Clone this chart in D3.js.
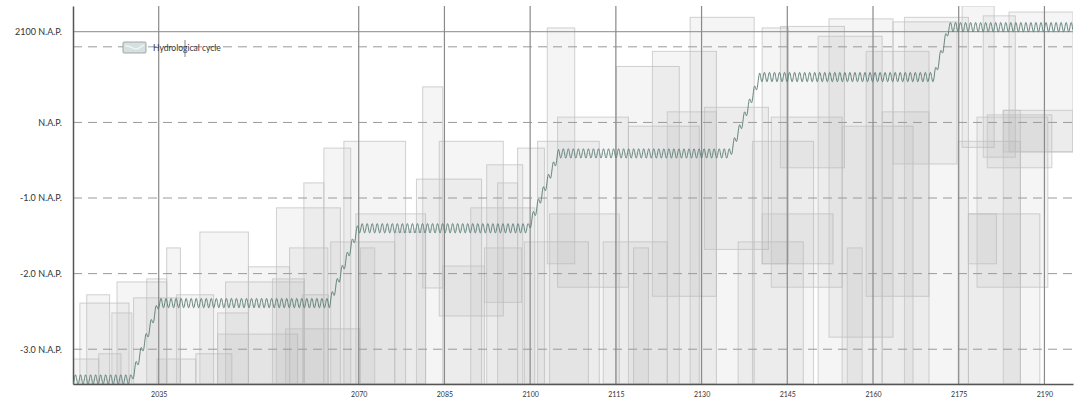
<!DOCTYPE html>
<html>
<head>
<meta charset="utf-8">
<script src="https://cdn.jsdelivr.net/npm/d3@7"></script>
<style>
  body { margin: 0; background: #fff; }
  svg { display: block; }
  text { font-family: Lato, "Open Sans", sans-serif; fill: #333; }
</style>
</head>
<body>
<svg id="chart" width="1081" height="402"></svg>
<script>
// ---- axis ticks -------------------------------------------------------
const yearTicks   = [2035, 2070, 2085, 2100, 2115, 2130, 2145, 2160, 2175, 2190];
const levelTicks  = [-3, -2, -1, 0, 1];
const levelLabels = ["-3.0 N.A.P.", "-2.0 N.A.P.", "-1.0 N.A.P.", "N.A.P.", ""];
const refLevel    = 1.2;
const refLabel    = "2100 N.A.P.";

// ---- water level: stepped base level (years / metres) -----------------
const stepYears  = [2020, 2030.2, 2035.0, 2064.9, 2069.9, 2099.7, 2105.0, 2135.0, 2140.2, 2170.7, 2173.3, 2195];
const stepLevels = [-3.40, -3.40, -2.39, -2.39, -1.40, -1.40, -0.41, -0.41, 0.60, 0.60, 1.26, 1.26];
// yearly hydrological swing around the base level
const cycleYears = 0.88;
const cycleSwing = 0.062;

// ---- blocks: start year, end year, top level, bottom level (null = ground)
const blockStart  = [2020.1,2021.2,2022.4,2024.5,2026.8,2027.7,2030.6,2032.9,2036.4,2034.7,2041.5,2038.1,2042.2,2045.3,2045.3,2046.7,2050.7,2054.9,2057.2,2060.2,2055.6,2057.9,2060.4,2063.9,2067.4,2065.1,2070.3,2069.5,2076.3,2080.1,2081.2,2084.1,2084.7,2089.6,2092.0,2092.4,2094.3,2097.8,2099.0,2101.3,2103.0,2104.8,2103.4,2112.8,2118.1,2115.1,2117.2,2121.4,2124.0,2128.0,2130.5,2136.4,2138.9,2140.6,2140.6,2142.2,2143.8,2150.4,2152.3,2154.6,2155.5,2158.8,2161.6,2163.5,2165.5,2175.6,2174.9,2176.7,2176.7,2178.2,2179.3,2180.0,2183.8,2182.8,2182.8];
const blockEnd    = [2024.5,2029.8,2026.4,2028.4,2030.3,2036.4,2038.8,2036.4,2038.8,2041.5,2047.8,2044.6,2050.7,2050.7,2059.3,2060.4,2057.9,2060.5,2070.2,2064.7,2066.8,2064.6,2063.9,2068.6,2078.2,2076.3,2072.8,2081.7,2081.7,2091.5,2084.7,2095.3,2092.0,2100.8,2098.5,2098.7,2097.8,2102.5,2110.2,2112.1,2107.8,2117.2,2115.6,2124.0,2120.7,2126.1,2129.6,2132.6,2132.6,2139.2,2141.7,2147.8,2149.6,2145.2,2153.0,2154.6,2155.0,2161.6,2163.5,2167.0,2158.1,2169.8,2169.8,2174.7,2176.7,2181.2,2185.8,2189.2,2181.6,2190.6,2184.9,2191.3,2195.0,2185.8,2195.0];
const blockTop    = [-3.13,-2.39,-2.28,-3.06,-2.52,-2.11,-2.32,-2.07,-1.66,-3.13,-3.06,-2.28,-1.45,-2.52,-2.80,-2.11,-1.91,-2.07,-2.73,-2.28,-1.13,-1.66,-0.80,-0.34,-0.25,-1.58,-1.66,-1.21,-1.45,-0.75,0.47,-0.25,-1.90,-1.13,-1.66,-0.56,-0.80,-0.34,-1.58,-0.25,1.25,0.07,-1.21,-1.58,-1.66,0.74,-0.05,0.94,0.14,1.39,0.20,-1.58,-0.25,1.25,-1.21,0.07,1.27,1.14,1.37,-0.05,-1.66,0.94,0.14,1.33,1.39,1.54,-0.25,-1.21,-1.21,0.07,1.41,0.10,1.46,0.16,0.16];
const blockBottom = [null,null,null,null,null,null,null,null,null,null,null,null,null,null,null,null,null,null,null,null,null,null,null,null,null,null,null,null,null,null,-2.19,-2.56,null,null,-2.38,null,null,null,null,null,-1.87,-2.18,null,null,null,null,null,-2.30,null,null,-1.68,null,null,-1.87,-1.87,-2.18,-0.60,null,-2.84,null,null,-2.30,null,-0.55,null,-0.33,null,null,-1.87,-2.18,-0.46,-0.60,-0.39,null,-0.39];

// ---- layout -----------------------------------------------------------
const svg = d3.select("#chart");
const plot = { left: 73, right: 1073, top: 6, bottom: 384 };

const x = d3.scaleLinear().domain([2020, 2195]).range([plot.left, plot.right]);
const y = d3.scaleLinear().domain([-3.46, 1.54]).range([plot.bottom, plot.top]);

svg.append("defs").append("clipPath").attr("id", "plot-clip")
  .append("rect")
  .attr("x", plot.left).attr("y", plot.top)
  .attr("width", plot.right - plot.left).attr("height", plot.bottom - plot.top);

// ---- blocks -----------------------------------------------------------
const blocks = blockStart.map((s, i) => ({
  start: s, end: blockEnd[i], top: blockTop[i],
  bottom: blockBottom[i] === null ? y.domain()[0] : blockBottom[i]
}));

svg.append("g").attr("clip-path", "url(#plot-clip)")
  .selectAll("rect").data(blocks).join("rect")
  .attr("x", d => x(d.start))
  .attr("y", d => y(d.top))
  .attr("width", d => x(d.end) - x(d.start))
  .attr("height", d => y(d.bottom) - y(d.top))
  .attr("fill", "#b0b0b0")
  .attr("fill-opacity", 0.13)
  .attr("stroke", "#c2c2c2")
  .attr("stroke-opacity", 0.75)
  .attr("stroke-width", 1);

// ---- grid -------------------------------------------------------------
const grid = svg.append("g");

grid.selectAll("line.h").data(levelTicks).join("line")
  .attr("class", "h")
  .attr("x1", plot.left).attr("x2", plot.right)
  .attr("y1", d => y(d)).attr("y2", d => y(d))
  .attr("stroke", "#9a9a9a").attr("stroke-width", 1)
  .attr("stroke-dasharray", "9,6");

grid.append("line")
  .attr("x1", plot.left).attr("x2", plot.right)
  .attr("y1", y(refLevel)).attr("y2", y(refLevel))
  .attr("stroke", "#8a8a8a").attr("stroke-width", 1);

grid.selectAll("line.v").data(yearTicks).join("line")
  .attr("class", "v")
  .attr("x1", d => x(d)).attr("x2", d => x(d))
  .attr("y1", plot.top).attr("y2", plot.bottom)
  .attr("stroke", "#8a8a8a").attr("stroke-width", 1.2);

// ---- axes -------------------------------------------------------------
const xAxis = d3.axisBottom(x).tickValues(yearTicks).tickSize(0).tickPadding(8)
  .tickFormat(d3.format("d"));
const gx = svg.append("g").attr("transform", `translate(0,${plot.bottom})`).call(xAxis);
gx.select(".domain").attr("stroke", "#555").attr("stroke-width", 1.5);
gx.selectAll("text").style("font-size", "7px").attr("fill", "#333");

const yAxis = d3.axisLeft(y).tickValues([...levelTicks, refLevel]).tickSize(0).tickPadding(11)
  .tickFormat(d => d === refLevel ? refLabel : levelLabels[levelTicks.indexOf(d)]);
const gy = svg.append("g").attr("transform", `translate(${plot.left},0)`).call(yAxis);
gy.select(".domain").attr("stroke", "#555").attr("stroke-width", 1.5);
gy.selectAll("text").style("font-size", "9px").attr("fill", "#333");

// ---- water level line -------------------------------------------------
const baseLevel = d3.scaleLinear().domain(stepYears).range(stepLevels);
const samples = d3.range(2020, 2195.001, 0.04).map(t => ({
  t, v: baseLevel(t) - cycleSwing * Math.cos(2 * Math.PI * (t - 2020) / cycleYears)
}));

svg.append("path")
  .datum(samples)
  .attr("clip-path", "url(#plot-clip)")
  .attr("fill", "none")
  .attr("stroke", "#5b7d75")
  .attr("stroke-width", 0.95)
  .attr("d", d3.line().x(d => x(d.t)).y(d => y(d.v)).curve(d3.curveLinear));

// ---- legend -----------------------------------------------------------
const legend = svg.append("g").attr("transform", "translate(123,42)");
legend.append("rect")
  .attr("width", 23).attr("height", 11).attr("rx", 1)
  .attr("fill", "#d6e0df").attr("stroke", "#8c9896").attr("stroke-width", 0.8);
legend.append("path")
  .attr("d", "M2,4 C6,3 9,6 12,7 C15,8 18,4 21,3")
  .attr("fill", "none").attr("stroke", "#f4f7f7").attr("stroke-width", 1.2);
legend.append("text")
  .attr("x", 30).attr("y", 8.5)
  .style("font-size", "8.5px")
  .text("Hydrological cycle");
legend.append("line")
  .attr("x1", 62).attr("x2", 62).attr("y1", -2).attr("y2", 15)
  .attr("stroke", "#666").attr("stroke-width", 0.8);
</script>
</body>
</html>
